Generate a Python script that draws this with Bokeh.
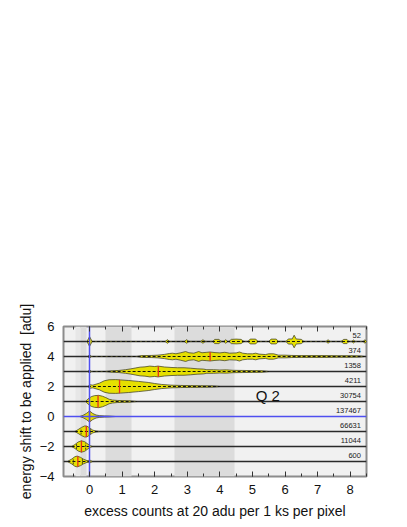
import numpy as np
from bokeh.plotting import figure
from bokeh.models import LinearAxis, SingleIntervalTicker, Range1d, CustomJSTickFormatter
from bokeh.core.properties import value
from bokeh.embed import file_html
from bokeh.resources import INLINE

# ---------------- data ----------------
rows = [5, 4, 3, 2, 1, 0, -1, -2, -3]
counts = ["52", "374", "1358", "4211", "30754", "137467", "66631", "11044", "600"]
medians = [None, 3.7, 2.11, 0.92, 0.26, 0.0, -0.1, -0.25, -0.36]
quartiles = [None, None, None, None, None, None, (-0.26, 0.02), (-0.4, -0.12), (-0.5, -0.22)]

# violin profiles: x positions and half-widths (in adu)
r5_x = [-0.08, 0, 0.08, 2.32, 2.39, 2.46, 2.91, 2.98, 3.05, 3.41, 3.48, 3.55,
        3.78, 3.84, 3.97, 4.04, 4.12, 4.18, 4.24, 4.28, 4.35, 4.5, 4.65, 4.74,
        4.86, 4.93, 5.1, 5.17, 5.5, 5.57, 5.73, 5.8, 6.03, 6.1, 6.22, 6.28, 6.34,
        6.5, 6.58, 7.26, 7.32, 7.38, 7.72, 7.8, 7.9, 7.96, 8.05, 8.1, 8.15, 8.4, 8.45, 8.5]
r5_w = [0, 0.33, 0, 0, 0.12, 0, 0, 0.12, 0, 0, 0.12, 0,
        0, 0.14, 0.14, 0, 0, 0.12, 0, 0, 0.14, 0.16, 0.14, 0,
        0, 0.16, 0.16, 0, 0, 0.16, 0.16, 0, 0, 0.17, 0.17, 0.42, 0.17,
        0.14, 0, 0, 0.12, 0, 0, 0.14, 0.14, 0, 0, 0.1, 0, 0, 0.12, 0]

r4_x = [-0.06, 0, 0.06, 1.45, 1.6, 1.9, 2.1, 2.3, 2.45, 2.55, 2.65, 2.8, 2.95, 3.05,
        3.2, 3.35, 3.45, 3.6, 3.7, 3.85, 4.0, 4.15, 4.3, 4.5, 4.6, 4.7, 4.85, 5.0,
        5.1, 5.2, 5.4, 5.5, 5.65, 5.8, 6.0, 6.2, 6.5, 6.8, 7.2, 7.6, 8.0, 8.3, 8.45]
r4_w = [0, 0.13, 0, 0, 0.06, 0.07, 0.09, 0.14, 0.2, 0.22, 0.18, 0.25, 0.33, 0.25,
        0.22, 0.33, 0.25, 0.28, 0.3, 0.26, 0.24, 0.28, 0.22, 0.24, 0.3, 0.22, 0.18, 0.18,
        0.22, 0.16, 0.13, 0.18, 0.18, 0.09, 0.09, 0.07, 0.06, 0.06, 0.06, 0.05, 0.05, 0.04, 0]

r3_x = [-0.06, 0, 0.06, 0.5, 0.7, 0.9, 1.1, 1.25, 1.4, 1.55, 1.7, 1.85, 2.0, 2.1,
        2.3, 2.5, 2.7, 2.9, 3.1, 3.3, 3.5, 3.6, 3.8, 4.0, 4.2, 4.4, 4.7, 5.0, 5.3, 5.5]
r3_w = [0, 0.12, 0, 0, 0.05, 0.07, 0.12, 0.17, 0.23, 0.29, 0.31, 0.36, 0.33, 0.36,
        0.3, 0.27, 0.25, 0.25, 0.22, 0.18, 0.16, 0.12, 0.12, 0.1, 0.11, 0.08, 0.07, 0.06, 0.05, 0]

r2_x = [-0.05, 0.0, 0.1, 0.3, 0.45, 0.6, 0.8, 0.95, 1.2, 1.5, 1.8, 2.0, 2.2, 2.5,
        2.8, 3.1, 3.4, 3.8, 4.0]
r2_w = [0, 0.12, 0.09, 0.22, 0.38, 0.45, 0.46, 0.44, 0.4, 0.34, 0.27, 0.2, 0.14, 0.09,
        0.07, 0.06, 0.05, 0.04, 0]

r1_x = [-0.12, -0.05, 0.05, 0.15, 0.28, 0.4, 0.5, 0.6, 0.7, 0.85, 1.0, 1.2, 1.45]
r1_w = [0, 0.17, 0.32, 0.39, 0.41, 0.35, 0.26, 0.15, 0.1, 0.07, 0.06, 0.05, 0]

r0_x = [-0.3, -0.2, -0.1, 0.0, 0.1, 0.2, 0.3, 0.45, 0.6, 0.8]
r0_w = [0, 0.08, 0.2, 0.37, 0.2, 0.1, 0.06, 0.04, 0.03, 0]

rm1_x = [-0.45, -0.35, -0.25, -0.15, -0.08, 0.0, 0.1, 0.2, 0.3]
rm1_w = [0, 0.13, 0.27, 0.37, 0.36, 0.24, 0.09, 0.03, 0]

rm2_x = [-0.55, -0.45, -0.35, -0.25, -0.15, -0.05, 0.03, 0.08]
rm2_w = [0, 0.13, 0.3, 0.38, 0.32, 0.16, 0.05, 0]

rm3_x = [-0.68, -0.55, -0.45, -0.38, -0.28, -0.18, -0.08, -0.04, 0.0, 0.04, 0.08]
rm3_w = [0, 0.16, 0.32, 0.36, 0.28, 0.15, 0.06, 0.06, 0.11, 0.06, 0]

profiles = [(r5_x, r5_w), (r4_x, r4_w), (r3_x, r3_w), (r2_x, r2_w), (r1_x, r1_w),
            (r0_x, r0_w), (rm1_x, rm1_w), (rm2_x, rm2_w), (rm3_x, rm3_w)]

band_x0 = [-0.43, -0.28, 0.5, 2.6]
band_x1 = [-0.28, -0.1, 1.3, 4.45]
band_col = ["#e7e7e7", "#dcdcdc", "#dcdcdc", "#dcdcdc"]

x_lo, x_hi = -0.8, 8.5
y_lo, y_hi = -4, 6

FONT = "Liberation Sans"

# ---------------- figure ----------------
p = figure(frame_width=303, frame_height=150,
           x_range=Range1d(x_lo, x_hi), y_range=Range1d(y_lo, y_hi),
           output_backend="svg", toolbar_location=None,
           min_border_left=63, min_border_top=326, min_border_right=33, min_border_bottom=45,
           background_fill_color="#f1f1f1", border_fill_color="white")
p.grid.visible = False
p.outline_line_color = "#8c8c8c"
p.outline_line_width = 2

# shaded bands
p.vstrip(x0=band_x0, x1=band_x1, fill_color=band_col, line_color=None)

# row base lines (row 0 is the blue line)
p.hspan(y=[r for r in rows if r != 0], line_color="#2a2a2a", line_width=1.5)

# violins
xs, ys = [], []
for r, (vx, vw) in zip(rows, profiles):
    vx = np.asarray(vx, float)
    vw = np.asarray(vw, float)
    xs.append(np.concatenate([vx, vx[::-1]]))
    ys.append(np.concatenate([r + vw, (r - vw)[::-1]]))
p.patches(xs, ys, fill_color="#e6e000", line_color="#4a4a2a", line_width=0.8)

# dashed centre lines inside violins
dx0 = [min(vx) for vx, _ in profiles]
dx1 = [max(vx) for vx, _ in profiles]
p.segment(x0=dx0, x1=dx1, y0=rows, y1=rows, line_color="#111111", line_width=1,
          line_dash="3 2")

# quartile marks
qx, qy0, qy1 = [], [], []
for r, q, (vx, vw) in zip(rows, quartiles, profiles):
    if q is None:
        continue
    for qq in q:
        h = float(np.interp(qq, vx, vw)) * 0.8
        qx.append(qq); qy0.append(r - h); qy1.append(r + h)
p.segment(x0=qx, x1=qx, y0=qy0, y1=qy1, line_color="#222222", line_width=0.8,
          line_dash="2 1")

# medians
mx, my0, my1 = [], [], []
for r, m, (vx, vw) in zip(rows, medians, profiles):
    if m is None:
        continue
    h = float(np.interp(m, vx, vw))
    mx.append(m); my0.append(r - h); my1.append(r + h)
p.segment(x0=mx, x1=mx, y0=my0, y1=my1, line_color="#e8301a", line_width=1.3)

# blue zero lines
p.vspan(x=[0], line_color="#4f4ff0", line_width=1.5)
p.hspan(y=[0], line_color="#4f4ff0", line_width=1.5)

# counts
p.text(x=[8.33] * len(rows), y=[r + 0.4 for r in rows], text=counts,
       text_align="right", text_baseline="middle", text_font_size="7.5px",
       text_font=value(FONT), text_color="#1a1a1a")

# panel label
p.text(x=[5.1], y=[1.41], text=["Q 2"], text_align="left", text_baseline="middle",
       text_font_size="15px", text_font=value(FONT), text_color="#111111")

# axes
def style_x(ax):
    ax.ticker = SingleIntervalTicker(interval=1, num_minor_ticks=2)
    ax.major_tick_in = 5
    ax.major_tick_out = 0
    ax.minor_tick_in = 3
    ax.minor_tick_out = 0
    ax.major_tick_line_color = "#333333"
    ax.minor_tick_line_color = "#333333"
    ax.axis_line_color = None

xa = p.xaxis[0]
style_x(xa)
xa.axis_label = "excess counts at 20 adu per 1 ks per pixel"
xa.axis_label_text_font = FONT
xa.axis_label_text_font_size = "14px"
xa.axis_label_text_font_style = "normal"
xa.axis_label_text_color = "#111111"
xa.axis_label_standoff = 6
xa.major_label_text_font = FONT
xa.major_label_text_font_size = "13px"
xa.major_label_text_color = "#111111"
xa.major_label_standoff = 8

top = LinearAxis(formatter=CustomJSTickFormatter(code="return ''"))
style_x(top)
top.major_label_standoff = 0
p.add_layout(top, "above")

ya = p.yaxis[0]
ya.ticker = SingleIntervalTicker(interval=2, num_minor_ticks=0)
ya.major_tick_in = 0
ya.major_tick_out = 0
ya.minor_tick_in = 0
ya.minor_tick_out = 0
ya.axis_line_color = None
ya.axis_label = "energy shift to be applied \u00a0[adu]"
ya.axis_label_text_font = FONT
ya.axis_label_text_font_size = "14px"
ya.axis_label_text_font_style = "normal"
ya.axis_label_text_color = "#111111"
ya.axis_label_standoff = 3
ya.major_label_text_font = FONT
ya.major_label_text_font_size = "13px"
ya.major_label_text_color = "#111111"
ya.major_label_standoff = 9

open("out.html", "w").write(file_html(p, INLINE))
